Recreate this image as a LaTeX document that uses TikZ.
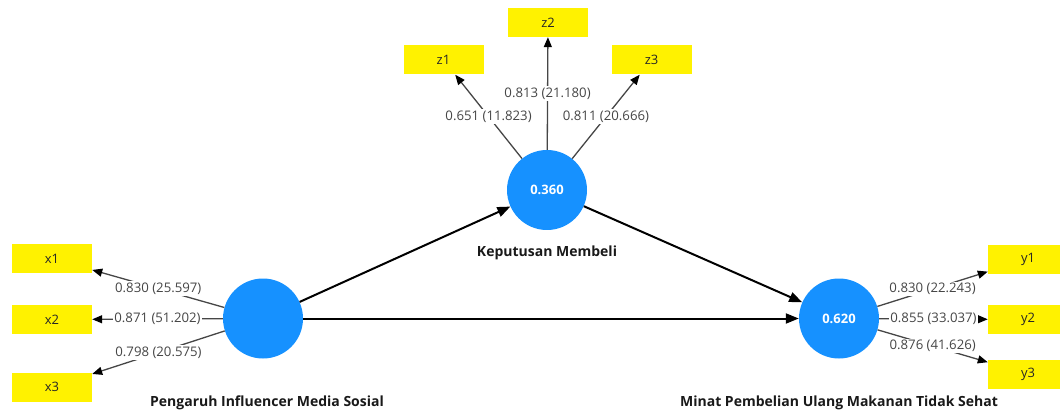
\documentclass[tikz,border=0pt]{standalone}
\usepackage{fontspec}
\setmainfont{Open Sans}
\usetikzlibrary{arrows.meta}
\definecolor{lvblue}{RGB}{22,145,255}
\definecolor{indyel}{RGB}{255,242,0}
\definecolor{ldgray}{RGB}{70,70,70}
\begin{document}
\begin{tikzpicture}[x=1pt,y=-1pt,
  latent/.style={circle,fill=lvblue,minimum size=80pt,inner sep=0pt,text=white,font=\fontsize{13}{15}\selectfont\bfseries},
  indbox/.style={rectangle,fill=indyel,minimum width=80pt,minimum height=29pt,inner sep=0pt,font=\fontsize{13}{15}\selectfont,text=black!85},
  loadarrow/.style={draw=ldgray,line width=1.3pt,-{Triangle[length=10pt,width=8pt,color=black]}},
  patharrow/.style={draw=black,line width=2pt,-{Triangle[length=13pt,width=10pt]}},
  loadlabel/.style={fill=white,inner sep=1.5pt,text=ldgray,font=\fontsize{13.2}{15}\selectfont},
  lvname/.style={font=\fontsize{14}{16}\selectfont\bfseries,text=black!90}]
\useasboundingbox (0,0) rectangle (1060,414);
\clip (0,0) rectangle (1060,414);
\fill[white] (0,0) rectangle (1060,414);

% latent variables
\node[latent] (piv) at (263,318.5) {};
\node[latent] (km) at (547,190) {0.360};
\node[latent] (mp) at (839,318.5) {0.620};

% names
\node[lvname] (pivname) at (267,403) {Pengaruh Influencer Media Sosial};
\node[lvname] (kmname) at (547,253) {Keputusan Membeli};
\node[lvname] (mpname) at (839,403) {Minat Pembelian Ulang Makanan Tidak Sehat};

% indicators
\node[indbox] (x1) at (52,258.5) {x1};
\node[indbox] (x2) at (52,319.5) {x2};
\node[indbox] (x3) at (52,387) {x3};
\node[indbox] (z1) at (443.5,60) {z1};
\node[indbox] (z2) at (548,22.5) {z2};
\node[indbox] (z3) at (651.5,60) {z3};
\node[indbox] (y1) at (1028,259) {y1};
\node[indbox] (y2) at (1028,319.5) {y2};
\node[indbox] (y3) at (1028,374) {y3};

% loadings
\draw[loadarrow] (piv) -- node[loadlabel]{0.830 (25.597)} (x1);
\draw[loadarrow] (piv) -- node[loadlabel]{0.871 (51.202)} (x2);
\draw[loadarrow] (piv) -- node[loadlabel]{0.798 (20.575)} (x3);
\draw[loadarrow] (km) -- node[loadlabel]{0.651 (11.823)} (z1);
\draw[loadarrow] (km) -- node[loadlabel]{0.813 (21.180)} (z2);
\draw[loadarrow] (km) -- node[loadlabel]{0.811 (20.666)} (z3);
\draw[loadarrow] (mp) -- node[loadlabel]{0.830 (22.243)} (y1);
\draw[loadarrow] (mp) -- node[loadlabel]{0.855 (33.037)} (y2);
\draw[loadarrow] (mp) -- node[loadlabel]{0.876 (41.626)} (y3);

% structural paths
\draw[patharrow] (piv) -- (km);
\draw[patharrow] (piv) -- (mp);
\draw[patharrow] (km) -- (mp);
\end{tikzpicture}
\end{document}
